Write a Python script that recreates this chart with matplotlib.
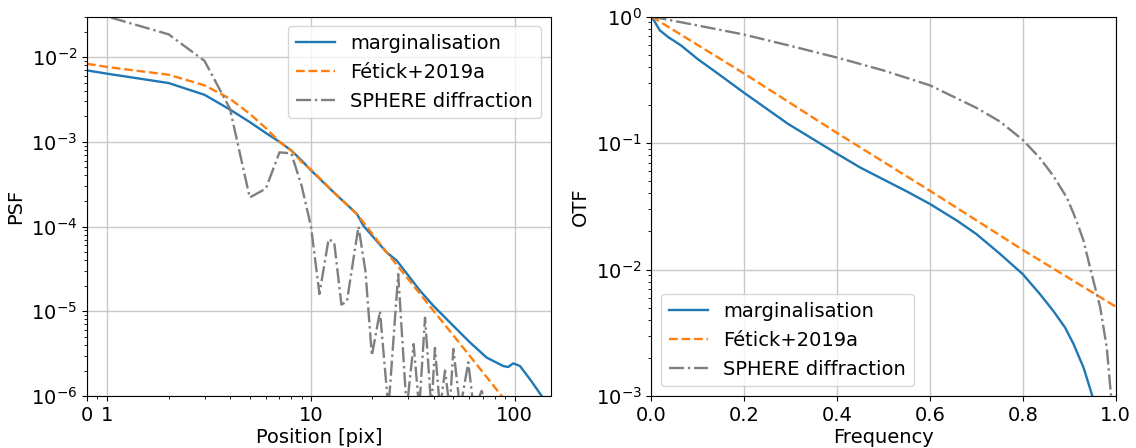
import numpy as np
import matplotlib
matplotlib.use('Agg')
from matplotlib import pyplot as plt
from matplotlib.ticker import FixedLocator, ScalarFormatter, NullFormatter

plt.rcParams['font.size'] = 14

# PSF profiles (left panel)
pos_marg = [0, 1, 2, 3, 4, 5, 6, 7, 8, 9, 10, 13, 16.8, 18.1, 23.5, 26.4, 34.3, 39.9,
            50.0, 60.4, 72.9, 87.9, 93, 98.4, 106.2, 118.9, 135.8, 150]
psf_marg = [6.95e-3, 6.35e-3, 4.93e-3, 3.58e-3, 2.40e-3, 1.71e-3, 1.27e-3, 1.0e-3, 7.9e-4,
            6.0e-4, 4.6e-4, 2.5e-4, 1.41e-4, 1.02e-4, 4.96e-5, 3.95e-5, 1.75e-5, 1.16e-5,
            6.73e-6, 4.28e-6, 2.84e-6, 2.26e-6, 2.2e-6, 2.43e-6, 2.26e-6, 1.58e-6, 1.0e-6, 7e-7]

pos_fetick = [0, 1, 2, 3, 4, 5, 6, 7, 8, 9, 10, 13, 17, 23, 30, 40, 50, 60, 70, 85, 100, 150]
psf_fetick = [8.33e-3, 7.62e-3, 6.18e-3, 4.63e-3, 3.22e-3, 2.14e-3, 1.45e-3, 1.0e-3, 7.87e-4,
              5.74e-4, 4.7e-4, 2.5e-4, 1.36e-4, 5.3e-5, 2.4e-5, 1.01e-5, 5.2e-6, 3.0e-6,
              1.89e-6, 1.05e-6, 6.5e-7, 1.9e-7]

pos_diff = [0, 1, 2, 3, 4, 5, 6, 7, 8, 9, 10, 11, 12.2, 13, 14.1, 15, 17.1, 18.5, 19.9,
            21.8, 24, 26.8, 29.5, 31.9, 34, 36.3, 39, 40.6, 43, 45.5, 48, 50, 54, 59.2,
            63, 68.9, 75, 85, 100, 150]
psf_diff = [3.5e-2, 3.0e-2, 1.85e-2, 9.0e-3, 2.45e-3, 2.2e-4, 2.8e-4, 7.5e-4, 7.3e-4, 3.0e-4,
            1.0e-4, 1.6e-5, 7.1e-5, 6.5e-5, 1.2e-5, 1.3e-5, 1.0e-4, 3e-5, 3.0e-6,
            1.0e-5, 7e-7, 2.75e-5, 7e-7, 4.1e-6, 7e-7, 8.4e-6, 7e-7, 3.7e-6, 7e-7,
            2e-6, 7e-7, 3.6e-6, 7e-7, 2.5e-6, 7e-7, 1.15e-6, 5e-7, 3e-7, 2e-7, 5e-8]

# OTF profiles (right panel)
freq_marg = [0, 0.007, 0.0177, 0.0356, 0.064, 0.1, 0.136, 0.2, 0.294, 0.4, 0.45, 0.5, 0.55,
             0.6, 0.658, 0.7, 0.751, 0.8, 0.837, 0.866, 0.891, 0.909, 0.931, 0.949, 0.97]
otf_marg = [1, 0.91, 0.78, 0.69, 0.59, 0.46, 0.37, 0.249, 0.142, 0.0822, 0.064, 0.0515, 0.0415,
            0.033, 0.0244, 0.0191, 0.0133, 9.2e-3, 6.4e-3, 4.7e-3, 3.49e-3, 2.6e-3, 1.68e-3,
            1.03e-3, 5e-4]

freq_fetick = [0, 0.2, 0.4, 0.6, 0.8, 1.0]
otf_fetick = [1, 0.354, 0.12, 0.042, 0.0143, 5.1e-3]

freq_diff = [0, 0.1, 0.2, 0.3, 0.4, 0.5, 0.6, 0.7, 0.751, 0.8, 0.837, 0.866, 0.895, 0.909,
             0.92, 0.931, 0.945, 0.956, 0.967, 0.981, 0.99, 0.996]
otf_diff = [1, 0.85, 0.72, 0.586, 0.474, 0.375, 0.286, 0.19, 0.148, 0.106, 0.076, 0.055,
            0.037, 0.028, 0.022, 0.0169, 0.0104, 7.2e-3, 5.0e-3, 2.43e-3, 1.03e-3, 1e-4]

labels = ['marginalisation', 'Fétick+2019a', 'SPHERE diffraction']

fig = plt.figure(figsize=(11.36, 4.48), dpi=100)
ax1 = fig.add_axes([0.0766, 0.116, 0.408, 0.847])
ax2 = fig.add_axes([0.5735, 0.116, 0.4085, 0.847])

# left: PSF
ax1.plot(pos_marg, psf_marg, color='C0', lw=1.7, label=labels[0])
ax1.plot(pos_fetick, psf_fetick, color='C1', ls='--', lw=1.7, label=labels[1])
ax1.plot(pos_diff, psf_diff, color='C7', ls='-.', lw=1.7, label=labels[2])
ax1.set_xscale('symlog', linthresh=1, linscale=0.09)
ax1.set_yscale('log')
ax1.set_xlim(0, 150)
ax1.set_ylim(1e-6, 3e-2)
ax1.xaxis.set_major_locator(FixedLocator([0, 1, 10, 100]))
ax1.xaxis.set_major_formatter(ScalarFormatter())
minors = [0.5] + [k * 10 ** d for d in range(3) for k in range(2, 10) if k * 10 ** d < 150]
ax1.xaxis.set_minor_locator(FixedLocator(minors))
ax1.xaxis.set_minor_formatter(NullFormatter())
ax1.grid(True, color='#c8c8c8', lw=1.0)
ax1.set_xlabel('Position [pix]', labelpad=2)
ax1.set_ylabel('PSF')
ax1.legend(loc='upper right')

# right: OTF
ax2.plot(freq_marg, otf_marg, color='C0', lw=1.7, label=labels[0])
ax2.plot(freq_fetick, otf_fetick, color='C1', ls='--', lw=1.7, label=labels[1])
ax2.plot(freq_diff, otf_diff, color='C7', ls='-.', lw=1.7, label=labels[2])
ax2.set_yscale('log')
ax2.set_xlim(0, 1)
ax2.set_ylim(1e-3, 1)
ax2.grid(True, color='#c8c8c8', lw=1.0)
ax2.set_xlabel('Frequency', labelpad=2)
ax2.set_ylabel('OTF')
ax2.legend(loc='lower left')

fig.savefig('out.png', dpi=100)
